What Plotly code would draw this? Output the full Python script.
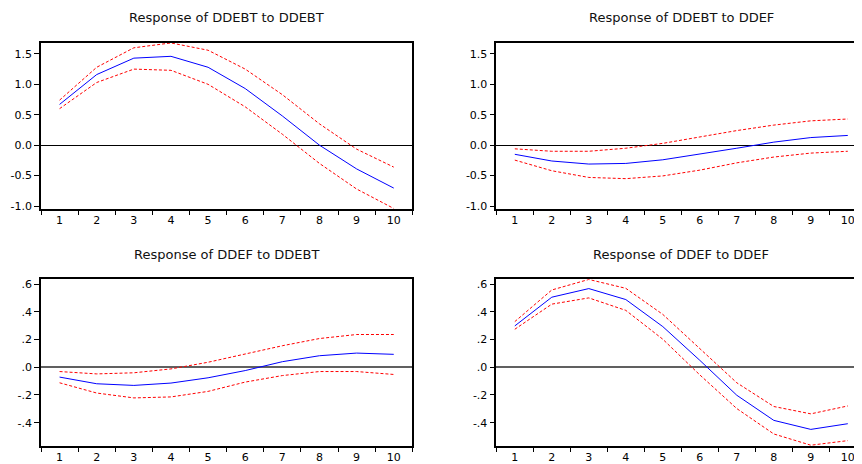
import plotly.graph_objects as go

periods = list(range(1, 11))

# Response of DDEBT to DDEBT
r11 = [0.67, 1.16, 1.43, 1.46, 1.28, 0.93, 0.48, 0.00, -0.39, -0.705]
r11_up = [0.74, 1.28, 1.60, 1.68, 1.56, 1.25, 0.83, 0.35, -0.065, -0.36]
r11_lo = [0.60, 1.03, 1.25, 1.23, 1.00, 0.63, 0.18, -0.30, -0.72, -1.04]

# Response of DDEBT to DDEF
r12 = [-0.15, -0.26, -0.31, -0.30, -0.24, -0.15, -0.05, 0.05, 0.125, 0.16]
r12_up = [-0.06, -0.10, -0.10, -0.05, 0.03, 0.135, 0.24, 0.33, 0.40, 0.43]
r12_lo = [-0.245, -0.42, -0.53, -0.55, -0.505, -0.41, -0.29, -0.195, -0.13, -0.10]

# Response of DDEF to DDEBT
r21 = [-0.071, -0.119, -0.131, -0.114, -0.076, -0.024, 0.04, 0.083, 0.102, 0.093]
r21_up = [-0.031, -0.048, -0.040, -0.012, 0.036, 0.095, 0.155, 0.207, 0.236, 0.236]
r21_lo = [-0.112, -0.186, -0.221, -0.214, -0.174, -0.107, -0.06, -0.031, -0.031, -0.052]

# Response of DDEF to DDEF
r22 = [0.298, 0.505, 0.567, 0.488, 0.293, 0.05, -0.202, -0.383, -0.448, -0.407]
r22_up = [0.329, 0.557, 0.633, 0.569, 0.381, 0.135, -0.112, -0.283, -0.336, -0.279]
r22_lo = [0.274, 0.455, 0.50, 0.41, 0.202, -0.055, -0.298, -0.481, -0.562, -0.529]

titles = ["Response of DDEBT to DDEBT", "Response of DDEBT to DDEF",
          "Response of DDEF to DDEBT", "Response of DDEF to DDEF"]

top_ticks = [-1.0, -0.5, 0.0, 0.5, 1.0, 1.5]
top_text = ["-1.0", "-0.5", "0.0", "0.5", "1.0", "1.5"]
bot_ticks = [-0.4, -0.2, 0.0, 0.2, 0.4, 0.6]
bot_text = ["-.4", "-.2", ".0", ".2", ".4", ".6"]

# page body has an 8px default margin; work in screen pixels and shift
OFF = 8
W, H = 862 - OFF, 464 - OFF


def fx(px):
    return (px - OFF) / W


def fy(py):
    return 1 - (py - OFF) / H


panels = [
    dict(series=(r11, r11_up, r11_lo), x0=41, x1=412.3, y0=42, y1=210, xr=[0.5, 10.5],
         yr=[-1.045, 1.685], ticks=(top_ticks, top_text), zc="black", zw=1, right=True),
    dict(series=(r12, r12_up, r12_lo), x0=496.3, x1=862, y0=42, y1=210, xr=[0.5, 0.5 + (862 - 496.3) / 37.0],
         yr=[-1.045, 1.685], ticks=(top_ticks, top_text), zc="black", zw=1, right=False),
    dict(series=(r21, r21_up, r21_lo), x0=41, x1=412.3, y0=281.3, y1=450.3, xr=[0.5, 10.5],
         yr=[-0.571, 0.634], ticks=(bot_ticks, bot_text), zc="#606060", zw=1.5, right=True),
    dict(series=(r22, r22_up, r22_lo), x0=496.3, x1=862, y0=281.3, y1=450.3, xr=[0.5, 0.5 + (862 - 496.3) / 37.0],
         yr=[-0.571, 0.634], ticks=(bot_ticks, bot_text), zc="#606060", zw=1.5, right=False),
]
title_pos = [(226.5, 16.7), (681, 16.7), (226.5, 256), (681, 256)]

fig = go.Figure()
font_family = "DejaVu Sans, Liberation Sans, Arial, sans-serif"
boundaries = [i + 0.5 for i in range(0, 11)]

for i, p in enumerate(panels):
    n = "" if i == 0 else str(i + 1)
    xa, ya = "x" + n, "y" + n
    mid, up, lo = p["series"]
    fig.add_trace(go.Scatter(x=periods, y=up, mode="lines", xaxis=xa, yaxis=ya,
                             line=dict(color="#FF0000", width=1, dash="3px,2px"), showlegend=False))
    fig.add_trace(go.Scatter(x=periods, y=lo, mode="lines", xaxis=xa, yaxis=ya,
                             line=dict(color="#FF0000", width=1, dash="3px,2px"), showlegend=False))
    fig.add_trace(go.Scatter(x=periods, y=mid, mode="lines", xaxis=xa, yaxis=ya,
                             line=dict(color="#0000FF", width=1), showlegend=False))
    fig.layout["xaxis" + n] = dict(
        domain=[max(fx(p["x0"]), 0), min(fx(p["x1"]), 1.0)], range=p["xr"], anchor=ya,
        tickmode="array", tickvals=periods, ticktext=[str(v) for v in periods],
        ticks="outside", ticklen=0, tickcolor="black",
        minor=dict(tickmode="array", tickvals=boundaries, ticks="outside", ticklen=4,
                   tickcolor="black", tickwidth=1, showgrid=False),
        showline=True, linecolor="black", linewidth=1.5, mirror=True,
        showgrid=False, zeroline=False,
        tickfont=dict(family=font_family, size=11, color="black"),
    )
    fig.layout["yaxis" + n] = dict(
        domain=[fy(p["y1"]), fy(p["y0"])], range=p["yr"], anchor=xa,
        tickmode="array", tickvals=p["ticks"][0], ticktext=p["ticks"][1],
        ticks="outside", ticklen=5, tickcolor="black",
        showline=True, linecolor="black", linewidth=1.5, mirror=p["right"],
        showgrid=False, zeroline=True, zerolinecolor=p["zc"], zerolinewidth=p["zw"],
        tickfont=dict(family=font_family, size=11, color="black"),
    )

for (tx, ty), t in zip(title_pos, titles):
    fig.add_annotation(x=fx(tx), y=fy(ty), xref="paper", yref="paper", text=t,
                       showarrow=False, xanchor="center", yanchor="middle",
                       font=dict(family=font_family, size=13, color="#111111"))

fig.update_layout(width=W, height=H, margin=dict(l=0, r=0, t=0, b=0),
                  paper_bgcolor="white", plot_bgcolor="white", autosize=False)

fig.write_html("out.html")
